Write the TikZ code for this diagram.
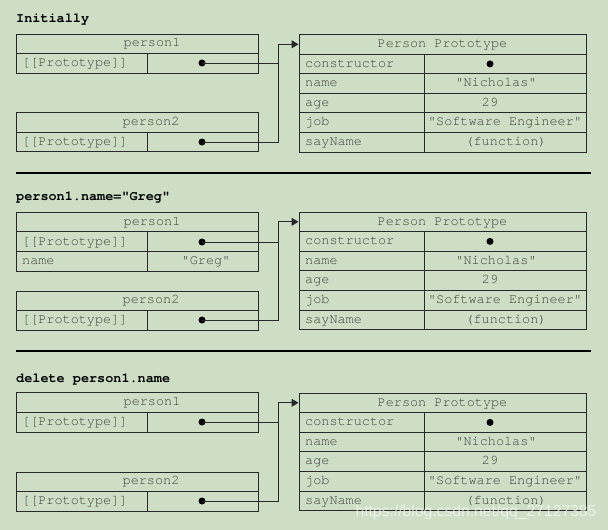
\documentclass[tikz,border=0pt]{standalone}
\usepackage{fontspec}
\usetikzlibrary{arrows.meta}
\newfontfamily\cour{TeX Gyre Cursor}
\newfontfamily\wmfont{Liberation Sans}
\definecolor{bg}{RGB}{205,222,196}
\definecolor{txt}{RGB}{62,62,62}
\definecolor{ln}{RGB}{40,40,40}
\newcommand\protobox[2]{%
 \node[lbl,draw=ln,line width=1pt,minimum width=287pt,minimum height=19.6pt] (#2h) at (442.5,#1+9.8) {Person Prototype};
 \draw[frame] (299,#1+19.6) rectangle (586,#1+117.6);
 \foreach \k in {2,3,4,5} \draw[frame] (299,#1+19.6*\k) -- (586,#1+19.6*\k);
 \draw[frame] (424,#1+19.6) -- (424,#1+117.6);
 \node[lft] (#2c) at (305,#1+29.4) {constructor};
 \node[dot] (#2cd) at (490,#1+29.4) {};
 \node[lft] (#2n) at (305,#1+49) {name};
 \node[lbl] (#2nv) at (496,#1+49) {"Nicholas"};
 \node[lft] (#2a) at (305,#1+68.6) {age};
 \node[lbl] (#2av) at (490,#1+68.6) {29};
 \node[lft] (#2j) at (305,#1+88.2) {job};
 \node[lbl] (#2jv) at (505,#1+88.2) {"Software Engineer"};
 \node[lft] (#2s) at (305,#1+107.8) {sayName};
 \node[lbl] (#2sv) at (506,#1+107.8) {(function)};
}
\begin{document}
\begin{tikzpicture}[x=1pt,y=-1pt,
 frame/.style={draw=ln,line width=1pt},
 lbl/.style={font=\cour\fontsize{13.5}{14}\selectfont,text=txt,inner sep=0pt,text height=9.5pt,text depth=3pt},
 lft/.style={lbl,anchor=west},
 head/.style={font=\cour\bfseries\fontsize{13.5}{14}\selectfont,text=black,inner sep=0pt,anchor=west,text height=9.5pt,text depth=3pt},
 dot/.style={circle,fill=black,inner sep=0pt,minimum size=7pt},
 conn/.style={draw=ln,line width=1pt},
 arr/.style={conn,-{Triangle[length=7pt,width=8pt]}},
 sepline/.style={draw=black,line width=2pt}]
\fill[bg] (0,0) rectangle (608,530);
\useasboundingbox (0,0) rectangle (608,530);

% ---------- Section 1 ----------
\node[head] (h1) at (16,19) {Initially};
\draw[frame] (16,34) rectangle (258,73);
\draw[frame] (16,53.5) -- (258,53.5);
\draw[frame] (147,53.5) -- (147,73);
\node[lbl] (a1t) at (152,43.5) {person1};
\node[lft] (a1p) at (22,63) {[[Prototype]]};
\node[dot] (a1d) at (202,63) {};
\draw[frame] (16,112) rectangle (258,151.5);
\draw[frame] (16,132) -- (258,132);
\draw[frame] (147,132) -- (147,151.5);
\node[lbl] (a2t) at (151,122) {person2};
\node[lft] (a2p) at (22,142) {[[Prototype]]};
\node[dot] (a2d) at (202,142) {};
\protobox{34.5}{pa}
\coordinate (ja) at (278,44.3);
\draw[arr] (a1d.center) -| (ja) -- (pah.west);
\draw[conn] (a2d.center) -| (ja);
\draw[sepline] (16,173) -- (591,173);

% ---------- Section 2 ----------
\node[head] (h2) at (16,197) {person1.name="Greg"};
\draw[frame] (16,212) rectangle (258,271.5);
\draw[frame] (16,231.8) -- (258,231.8);
\draw[frame] (16,251.6) -- (258,251.6);
\draw[frame] (147,231.8) -- (147,271.5);
\node[lbl] (b1t) at (152,222) {person1};
\node[lft] (b1p) at (22,242) {[[Prototype]]};
\node[dot] (b1d) at (202,242) {};
\node[lft] (b1n) at (22,261.5) {name};
\node[lbl] (b1v) at (206,261.5) {"Greg"};
\draw[frame] (16,291) rectangle (258,330);
\draw[frame] (16,310.5) -- (258,310.5);
\draw[frame] (147,310.5) -- (147,330);
\node[lbl] (b2t) at (151,300.5) {person2};
\node[lft] (b2p) at (22,320) {[[Prototype]]};
\node[dot] (b2d) at (202,320) {};
\protobox{212}{pb}
\coordinate (jb) at (278,221.8);
\draw[arr] (b1d.center) -| (jb) -- (pbh.west);
\draw[conn] (b2d.center) -| (jb);
\draw[sepline] (16,351) -- (591,351);

% ---------- Section 3 ----------
\node[head] (h3) at (16,379) {delete person1.name};
\draw[frame] (16,392) rectangle (258,432);
\draw[frame] (16,412) -- (258,412);
\draw[frame] (147,412) -- (147,432);
\node[lbl] (c1t) at (152,402) {person1};
\node[lft] (c1p) at (22,422) {[[Prototype]]};
\node[dot] (c1d) at (202,422) {};
\draw[frame] (16,472) rectangle (258,511);
\draw[frame] (16,491.5) -- (258,491.5);
\draw[frame] (147,491.5) -- (147,511);
\node[lbl] (c2t) at (151,481.5) {person2};
\node[lft] (c2p) at (22,501) {[[Prototype]]};
\node[dot] (c2d) at (202,501) {};
\protobox{393}{pc}
\coordinate (jc) at (278,402.8);
\draw[arr] (c1d.center) -| (jc) -- (pch.west);
\draw[conn] (c2d.center) -| (jc);

% watermark
\node[font=\wmfont\fontsize{15.7}{16}\selectfont,text=white,opacity=0.65,inner sep=0pt] (wm) at (476,512) {https://blog.csdn.net/qq\_27127385};
\end{tikzpicture}
\end{document}
